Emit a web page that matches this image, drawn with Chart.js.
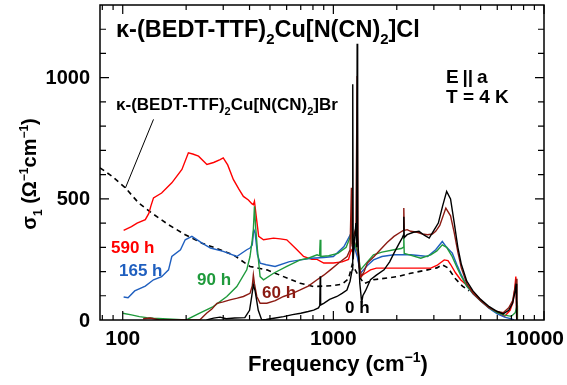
<!DOCTYPE html>
<html>
<head>
<meta charset="utf-8">
<script src="https://cdn.jsdelivr.net/npm/chart.js@4.4.1/dist/chart.umd.min.js"></script>
<style>
  body { margin: 0; background: #fff; }
</style>
</head>
<body>
<canvas id="sigmaChart" width="567" height="385"></canvas>
<script>
// frequencies (cm-1) and conductivity (1/Ohm cm)
const f0 = [250, 270, 290, 310, 340, 380, 400, 410, 417, 425, 440, 457, 480, 530, 580, 640, 700, 760, 806, 850, 862, 866, 870, 900, 960, 1040, 1100, 1160, 1200, 1228, 1236, 1242, 1260, 1280, 1290, 1297, 1304, 1320, 1335, 1350, 1362, 1380, 1420, 1500, 1600, 1740, 1850, 1940, 2050, 2120, 2150, 2160, 2170, 2240, 2400, 2550, 2700, 2850, 3000, 3150, 3300, 3450, 3600, 3750, 3900, 4050, 4300, 4600, 5000, 5500, 6000, 6400, 6800, 7100, 7300, 7380, 7420];
const s0 = [0, 8, 12, 5, 8, 10, 40, 100, 145, 120, 40, 0, 2, 8, 14, 22, 28, 35, 41, 50, 60, 180, 62, 69, 85, 97, 110, 124, 160, 207, 973, 250, 330, 400, 300, 1140, 350, 250, 152, 110, 70, 100, 120, 166, 185, 207, 240, 276, 315, 338, 350, 426, 340, 352, 362, 366, 350, 338, 370, 400, 470, 531, 500, 400, 300, 230, 160, 120, 85, 55, 35, 25, 40, 70, 120, 150, 0];

const f60 = [125, 135, 150, 180, 210, 232, 250, 265, 280, 300, 323, 350, 374, 402, 412, 417, 422, 433, 449, 483, 530, 580, 640, 696, 760, 837, 900, 968, 1060, 1162, 1200, 1218, 1226, 1250, 1280, 1297, 1310, 1330, 1360, 1400, 1450, 1560, 1670, 1800, 1940, 2080, 2150, 2160, 2170, 2240, 2330, 2500, 2650, 2800, 2950, 3060, 3200, 3420, 3600, 3750, 3900, 4050, 4300, 4600, 5000, 5500, 6000, 6400, 6800, 7100, 7300, 7400, 7440];
const s60 = [5, 8, 0, 0, 0, 0, 28, 45, 69, 75, 83, 90, 97, 110, 140, 186, 150, 97, 69, 69, 80, 97, 110, 124, 140, 166, 185, 207, 235, 262, 290, 546, 320, 350, 380, 1007, 300, 220, 180, 200, 235, 262, 290, 320, 345, 362, 370, 462, 370, 373, 366, 362, 355, 352, 355, 366, 390, 462, 430, 360, 280, 215, 150, 110, 80, 50, 35, 30, 50, 80, 140, 170, 0];

const f90 = [100, 110, 120, 130, 140, 200, 232, 269, 312, 348, 388, 402, 412, 417, 422, 428, 436, 449, 466, 520, 601, 696, 760, 837, 860, 866, 872, 950, 1050, 1150, 1205, 1218, 1226, 1250, 1280, 1310, 1345, 1450, 1550, 1700, 1940, 2100, 2150, 2160, 2170, 2300, 2600, 2900, 3100, 3290, 3450, 3650, 3850, 4020, 4300, 4600, 5000, 5500, 6000, 6500, 7000, 7300, 7450, 7480];
const s90 = [28, 21, 14, 10, 7, 0, 28, 55, 97, 138, 207, 262, 330, 373, 469, 380, 290, 179, 166, 193, 221, 248, 255, 269, 265, 331, 262, 265, 275, 300, 345, 381, 320, 330, 300, 280, 207, 240, 269, 280, 290, 295, 300, 345, 275, 269, 255, 269, 285, 310, 300, 265, 220, 185, 140, 110, 80, 50, 30, 20, 15, 30, 60, 0];

const f165 = [101, 106, 114, 128, 140, 153, 165, 171, 188, 198, 213, 237, 261, 300, 348, 388, 402, 412, 419, 425, 436, 449, 480, 529, 619, 700, 786, 900, 1000, 1123, 1216, 1240, 1260, 1300, 1345, 1450, 1550, 1700, 1940, 2150, 2330, 2600, 2800, 3060, 3290, 3450, 3670, 3850, 4020, 4300, 4600, 5000, 5500, 6000, 6500, 7000, 7200];
const s165 = [95, 92, 120, 140, 166, 179, 207, 262, 290, 331, 345, 318, 297, 283, 262, 290, 297, 310, 373, 360, 270, 235, 228, 221, 241, 248, 255, 258, 262, 303, 359, 330, 300, 260, 193, 225, 248, 262, 269, 269, 269, 265, 262, 290, 324, 300, 276, 230, 193, 140, 108, 78, 48, 25, 12, 5, 0];

const f590 = [101, 110, 117, 128, 133, 136, 140, 153, 171, 191, 205, 215, 229, 251, 270, 290, 300, 315, 335, 356, 374, 395, 410, 417, 422, 430, 442, 466, 520, 560, 601, 672, 722, 790, 837, 900, 1000, 1100, 1180, 1216, 1240, 1260, 1300, 1345, 1400, 1500, 1600, 1800, 2150, 2500, 2900, 3100, 3360, 3500, 3610, 3800, 4020, 4340, 4830, 5390, 6020, 6500, 6900, 7100, 7250, 7350, 7420];
const s590 = [370, 385, 400, 414, 440, 470, 504, 524, 566, 621, 690, 685, 676, 642, 650, 662, 669, 640, 580, 540, 510, 495, 480, 476, 490, 430, 345, 331, 338, 335, 331, 290, 262, 250, 250, 235, 235, 240, 250, 290, 280, 320, 280, 179, 190, 207, 214, 214, 214, 214, 214, 225, 248, 245, 228, 195, 166, 140, 97, 55, 28, 15, 40, 70, 120, 179, 0];

const fBr = [78, 89, 103, 119, 137, 165, 198, 238, 290, 335, 402, 483, 580, 696, 806, 900, 1000, 1100, 1180, 1230, 1300, 1400, 1550, 2010, 2330, 2800, 3100, 3290, 3500, 3800, 4100, 4400];
const sBr = [628, 593, 545, 483, 442, 393, 352, 317, 290, 269, 221, 207, 179, 152, 138, 140, 142, 148, 170, 230, 190, 150, 166, 179, 193, 207, 215, 228, 215, 170, 140, 120];

const xTicksMinor = [80, 90, 200, 300, 400, 500, 600, 700, 800, 900, 2000, 3000, 4000, 5000, 6000, 7000, 8000, 9000];
const xTickLabels = [100, 1000, 10000];
const yTickLabels = [0, 500, 1000];

const FONT = '"Liberation Sans", Arial, sans-serif';

function pts(xs, ys) {
  return xs.map((x, i) => ({ x: x, y: ys[i] }));
}

// draws text with sub/superscript parts: [text, -1 sub | 0 | 1 sup]
function rich(ctx, parts, x, y, size, align) {
  const small = Math.round(size * 0.62);
  let w = 0;
  parts.forEach(p => {
    ctx.font = 'bold ' + (p[1] ? small : size) + 'px ' + FONT;
    w += ctx.measureText(p[0]).width;
  });
  let cx = align === 'center' ? x - w / 2 : x;
  ctx.textBaseline = 'alphabetic';
  ctx.textAlign = 'left';
  parts.forEach(p => {
    ctx.font = 'bold ' + (p[1] ? small : size) + 'px ' + FONT;
    const dy = p[1] === -1 ? size * 0.28 : (p[1] === 1 ? -size * 0.42 : 0);
    ctx.fillText(p[0], cx, y + dy);
    cx += ctx.measureText(p[0]).width;
  });
}

const decor = {
  id: 'decor',
  afterDatasetsDraw(chart) {
    const { ctx, chartArea: a, scales: { x, y } } = chart;
    ctx.save();
    ctx.strokeStyle = '#000';
    ctx.fillStyle = '#000';
    ctx.lineWidth = 1.5;
    ctx.strokeRect(a.left, a.top, a.right - a.left, a.bottom - a.top);

    ctx.lineWidth = 1.2;
    ctx.beginPath();
    const xt = (v, len) => {
      const px = x.getPixelForValue(v);
      ctx.moveTo(px, a.bottom); ctx.lineTo(px, a.bottom - len);
      ctx.moveTo(px, a.top); ctx.lineTo(px, a.top + len);
    };
    xTicksMinor.forEach(v => xt(v, 5));
    xTickLabels.forEach(v => xt(v, 9));
    for (let v = 100; v < 1300; v += 100) {
      const len = v % 500 === 0 ? 9 : 6;
      const py = y.getPixelForValue(v);
      ctx.moveTo(a.left, py); ctx.lineTo(a.left + len, py);
      ctx.moveTo(a.right, py); ctx.lineTo(a.right - len, py);
    }
    ctx.stroke();

    // leader line to the Br curve
    ctx.lineWidth = 1;
    ctx.beginPath();
    ctx.moveTo(x.getPixelForValue(140), y.getPixelForValue(828));
    ctx.lineTo(x.getPixelForValue(103), y.getPixelForValue(545));
    ctx.stroke();

    // tick labels
    ctx.font = 'bold 20px ' + FONT;
    ctx.textAlign = 'right';
    ctx.textBaseline = 'middle';
    yTickLabels.forEach(v => ctx.fillText(String(v), 90, y.getPixelForValue(v) + 1));
    ctx.font = 'bold 21px ' + FONT;
    ctx.textAlign = 'center';
    ctx.textBaseline = 'alphabetic';
    xTickLabels.forEach(v => {
      const w = ctx.measureText(String(v)).width;
      let px = x.getPixelForValue(v);
      px = Math.min(px, 564 - w / 2);
      ctx.fillText(String(v), px, 345);
    });

    // axis titles
    rich(ctx, [['Frequency (cm', 0], ['\u22121', 1], [')', 0]], 338, 371, 22, 'center');
    ctx.save();
    ctx.translate(36, 174);
    ctx.rotate(-Math.PI / 2);
    rich(ctx, [['\u03c3', 0], ['1', -1], [' (\u03a9', 0], ['\u22121', 1], ['cm', 0], ['\u22121', 1], [')', 0]], 0, 0, 20, 'center');
    ctx.restore();

    // annotations
    rich(ctx, [['\u03ba-(BEDT-TTF)', 0], ['2', -1], ['Cu[N(CN)', 0], ['2', -1], [']Cl', 0]], 116, 37, 23.5, 'left');
    rich(ctx, [['\u03ba-(BEDT-TTF)', 0], ['2', -1], ['Cu[N(CN)', 0], ['2', -1], [']Br', 0]], 116, 110, 17, 'left');
    rich(ctx, [['E\u2009||\u2009a', 0]], 446, 83, 19, 'left');
    rich(ctx, [['T = 4 K', 0]], 446, 103, 19, 'left');

    const tags = [['590 h', '#ff0000', 111, 253], ['165 h', '#1f5fbf', 119, 276], ['90 h', '#1f9a3c', 197, 285], ['60 h', '#8b1a12', 262, 298], ['0 h', '#000000', 345, 313]];
    tags.forEach(t => { ctx.fillStyle = t[1]; rich(ctx, [[t[0], 0]], t[2], t[3], 17, 'left'); });
    ctx.restore();
  }
};

new Chart(document.getElementById('sigmaChart'), {
  type: 'line',
  data: {
    datasets: [
      { label: '0 h', data: pts(f0, s0), borderColor: '#000000', borderWidth: 1.4 },
      { label: '60 h', data: pts(f60, s60), borderColor: '#8b1a12', borderWidth: 1.4 },
      { label: '90 h', data: pts(f90, s90), borderColor: '#1f9a3c', borderWidth: 1.4 },
      { label: '165 h', data: pts(f165, s165), borderColor: '#1f5fbf', borderWidth: 1.4 },
      { label: '590 h', data: pts(f590, s590), borderColor: '#ff0000', borderWidth: 1.4 },
      { label: 'Br', data: pts(fBr, sBr), borderColor: '#000000', borderWidth: 1.6, borderDash: [5, 4] }
    ]
  },
  options: {
    responsive: false,
    animation: false,
    layout: { padding: { left: 100, right: 23, top: 5, bottom: 65 } },
    elements: { point: { radius: 0 }, line: { tension: 0, fill: false } },
    plugins: { legend: { display: false }, tooltip: { enabled: false } },
    scales: {
      x: { type: 'logarithmic', min: 78, max: 10000, display: false },
      y: { type: 'linear', min: 0, max: 1300, display: false }
    }
  },
  plugins: [decor]
});
</script>
</body>
</html>
